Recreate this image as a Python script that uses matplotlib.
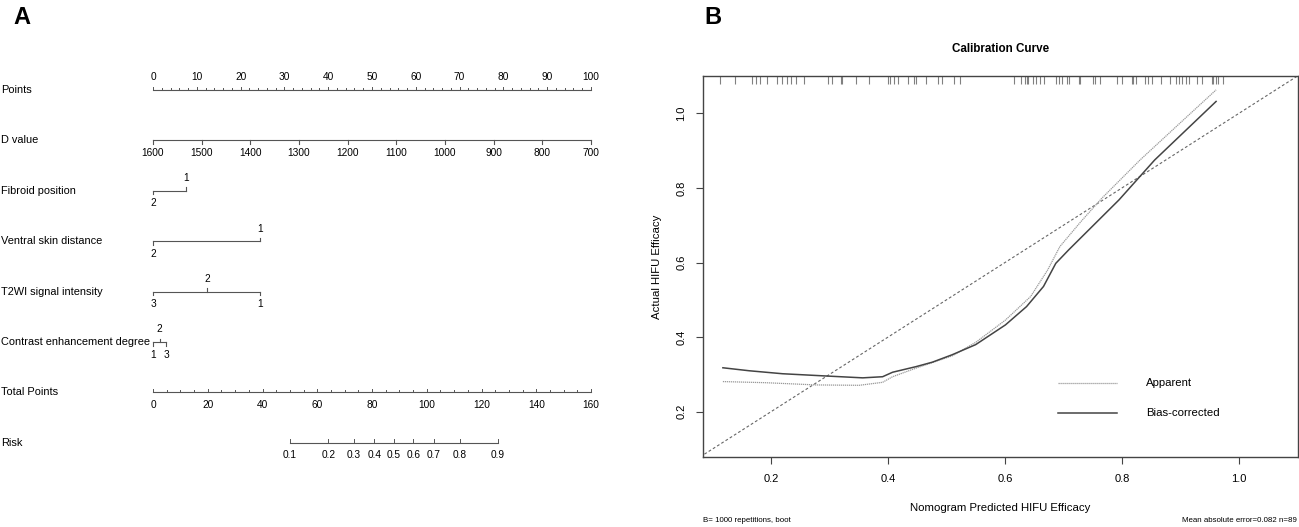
import numpy as np
import matplotlib
matplotlib.use("Agg")
import matplotlib.pyplot as plt

plt.rcParams['font.family'] = ['Liberation Sans', 'DejaVu Sans']

# ---- nomogram data (panel A) ----
row_names = ["Points", "D value", "Fibroid position", "Ventral skin distance",
             "T2WI signal intensity", "Contrast enhancement degree",
             "Total Points", "Risk"]

points_ticks = list(range(0, 101, 10))
d_labels = [1600, 1500, 1400, 1300, 1200, 1100, 1000, 900, 800, 700]
d_points = [0, 100]          # points at 1600 and at 700

fibroid_labels = ["2", "1"]
fibroid_points = [0, 7.5]
ventral_labels = ["2", "1"]
ventral_points = [0, 24.5]
t2wi_labels = ["3", "2", "1"]
t2wi_points = [0, 12.3, 24.4]
contrast_labels = ["1", "2", "3"]
contrast_points = [0, 1.5, 3.0]

total_ticks = list(range(0, 161, 20))
risk_labels = [0.1, 0.2, 0.3, 0.4, 0.5, 0.6, 0.7, 0.8, 0.9]
risk_total_points = [49.9, 64.0, 73.3, 80.9, 87.9, 95.1, 102.5, 112.2, 125.9]

# ---- calibration data (panel B) ----
apparent_x = [0.118, 0.191, 0.277, 0.351, 0.391, 0.408, 0.448, 0.510, 0.550,
              0.601, 0.644, 0.673, 0.694, 0.730, 0.766, 0.831, 0.900, 0.961]
apparent_y = [0.281, 0.278, 0.272, 0.271, 0.279, 0.294, 0.317, 0.350, 0.386,
              0.446, 0.509, 0.580, 0.643, 0.710, 0.773, 0.875, 0.975, 1.063]
bias_x = [0.118, 0.163, 0.220, 0.294, 0.357, 0.391, 0.408, 0.448, 0.476, 0.510,
          0.550, 0.601, 0.637, 0.666, 0.687, 0.709, 0.752, 0.795, 0.856, 0.961]
bias_y = [0.318, 0.310, 0.302, 0.296, 0.291, 0.294, 0.306, 0.321, 0.333, 0.353,
          0.380, 0.433, 0.482, 0.536, 0.598, 0.634, 0.701, 0.768, 0.875, 1.032]
rug_x = [0.113, 0.139, 0.168, 0.174, 0.181, 0.194, 0.211, 0.219, 0.227, 0.234,
         0.243, 0.256, 0.298, 0.305, 0.320, 0.322, 0.345, 0.368, 0.401, 0.403,
         0.411, 0.418, 0.435, 0.445, 0.448, 0.466, 0.485, 0.492, 0.513, 0.524,
         0.615, 0.627, 0.635, 0.637, 0.640, 0.648, 0.653, 0.660, 0.667, 0.688,
         0.693, 0.697, 0.707, 0.709, 0.726, 0.728, 0.751, 0.754, 0.763, 0.791,
         0.800, 0.817, 0.819, 0.824, 0.840, 0.844, 0.852, 0.867, 0.882, 0.892,
         0.897, 0.903, 0.909, 0.915, 0.929, 0.937, 0.954, 0.956, 0.961, 0.965,
         0.972]

W, H = 1299, 527
fig = plt.figure(figsize=(W / 100, H / 100), dpi=100)
tc = "#000000"

# ---------------- panel A ----------------
axA = fig.add_axes([0, 0, 640 / W, 1])
px_per_pt = 4.38
row_px = 50.4
first_px = 90
axA.set_xlim(-153 / px_per_pt, (640 - 153) / px_per_pt)
axA.set_ylim((H - first_px) / row_px, -first_px / row_px)
axA.axis("off")

lc = "#555555"
tick_major = 3.5 / row_px
tick_minor = 2.0 / row_px
lab_off = 12.5 / row_px
fs_tick = 7.3

for i, name in enumerate(row_names):
    axA.text(0.002, i, name, transform=axA.get_yaxis_transform(),
             ha="left", va="center", fontsize=7.9, color=tc)


def scale_row(row, pts, labels, above, tick_len=tick_major):
    # horizontal line with ticks pointing toward their labels
    axA.plot([min(pts), max(pts)], [row, row], color=lc, lw=0.8)
    for p, lab, up in zip(pts, labels, above):
        sgn = -1 if up else 1
        axA.plot([p, p], [row, row + sgn * tick_len], color=lc, lw=0.8)
        axA.text(p, row + sgn * lab_off, lab, ha="center", va="center",
                 fontsize=fs_tick, color=tc)


# Points
axA.plot([0, 100], [0, 0], color=lc, lw=0.8)
for p in range(0, 101, 2):
    t = tick_major if p % 10 == 0 else tick_minor
    axA.plot([p, p], [0, -t], color=lc, lw=0.7)
for p in points_ticks:
    axA.text(p, -lab_off, str(p), ha="center", va="center", fontsize=fs_tick,
             color=tc)

# D value
d_pts = np.interp(d_labels, [700, 1600], d_points[::-1])
scale_row(1, d_pts, [str(v) for v in d_labels], [False] * len(d_labels))

scale_row(2, fibroid_points, fibroid_labels, [False, True])
scale_row(3, ventral_points, ventral_labels, [False, True])
scale_row(4, t2wi_points, t2wi_labels, [False, True, False])
scale_row(5, contrast_points, contrast_labels, [False, True, False])

# Total Points (mapped on the 0-100 points axis)
tp_scale = 100 / 160
axA.plot([0, 100], [6, 6], color=lc, lw=0.8)
for tp in range(0, 161, 5):
    t = tick_major if tp % 20 == 0 else tick_minor
    axA.plot([tp * tp_scale] * 2, [6, 6 - t], color=lc, lw=0.7)
for tp in total_ticks:
    axA.text(tp * tp_scale, 6 + lab_off, str(tp), ha="center", va="center",
             fontsize=fs_tick, color=tc)

# Risk
rp = [v * tp_scale for v in risk_total_points]
axA.plot([rp[0], rp[-1]], [7, 7], color=lc, lw=0.8)
for p, lab in zip(rp, risk_labels):
    axA.plot([p, p], [7, 7 - tick_major], color=lc, lw=0.7)
    axA.text(p, 7 + lab_off, f"{lab:g}", ha="center", va="center",
             fontsize=fs_tick, color=tc)

# ---------------- panel B ----------------
axB = fig.add_axes([703 / W, (H - 457.3) / H, 595 / W, (457.3 - 75.7) / H])
axB.set_xlim(0.084, 1.101)
axB.set_ylim(0.078, 1.101)
for s in axB.spines.values():
    s.set_color("#444444")
    s.set_linewidth(1.0)

axB.plot([0, 1.2], [0, 1.2], color="#666666", lw=0.8, ls=(0, (2.5, 2)))
axB.plot(apparent_x, apparent_y, color="#9a9a9a", lw=0.9, ls=(0, (1, 0.6)))
axB.plot(bias_x, bias_y, color="#444444", lw=1.1)
axB.vlines(rug_x, 0.978, 1.0, transform=axB.get_xaxis_transform(),
           color="#808080", lw=0.8)

axB.set_xticks([0.2, 0.4, 0.6, 0.8, 1.0])
axB.set_xticklabels(["0.2", "0.4", "0.6", "0.8", "1.0"])
axB.set_yticks([0.2, 0.4, 0.6, 0.8, 1.0])
axB.set_yticklabels(["0.2", "0.4", "0.6", "0.8", "1.0"], rotation=90,
                    va="center")
axB.tick_params(axis="both", direction="out", length=5, width=0.8,
                color="#444444", labelsize=8, labelcolor=tc, pad=7)

axB.set_xlabel("Nomogram Predicted HIFU Efficacy", fontsize=8.2, labelpad=14,
               color=tc)
axB.set_ylabel("Actual HIFU Efficacy", fontsize=8.2, labelpad=10, color=tc)
axB.set_title("Calibration Curve", fontsize=8.4, fontweight="bold", pad=17,
              color=tc)

# legend drawn inside the plot as in R
axB.plot([0.690, 0.792], [0.277, 0.277], color="#9a9a9a", lw=0.9,
         ls=(0, (1, 0.6)))
axB.plot([0.690, 0.792], [0.197, 0.197], color="#444444", lw=1.1)
axB.text(0.842, 0.277, "Apparent", fontsize=8.2, va="center", color=tc)
axB.text(0.842, 0.197, "Bias-corrected", fontsize=8.2, va="center", color=tc)

fig.text(703 / W, 1 - 520 / H, "B= 1000 repetitions, boot", fontsize=5.7,
         ha="left", va="center", color=tc)
fig.text(1297 / W, 1 - 520 / H, "Mean absolute error=0.082 n=89",
         fontsize=5.7, ha="right", va="center", color=tc)

fig.text(22 / W, 1 - 17 / H, "A", fontsize=17, fontweight="bold",
         ha="center", va="center")
fig.text(713 / W, 1 - 17 / H, "B", fontsize=17, fontweight="bold",
         ha="center", va="center")

fig.savefig("out.png", dpi=100)
